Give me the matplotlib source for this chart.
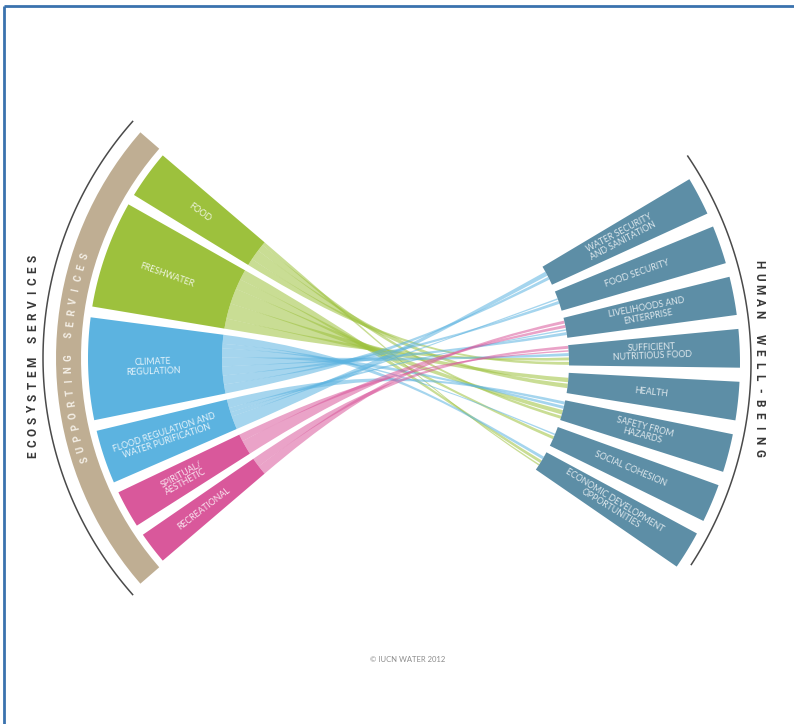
import numpy as np
import matplotlib.pyplot as plt
from matplotlib.patches import Polygon, PathPatch
from matplotlib.path import Path

# ecosystem services (left fan), angular size of each segment in degrees
services = ["FOOD", "FRESHWATER", "CLIMATE\nREGULATION",
            "FLOOD REGULATION AND\nWATER PURIFICATION", "SPIRITUAL/\nAESTHETIC",
            "RECREATIONAL"]
service_size = [9, 20, 19, 10, 7, 6]
service_color = ["#9dc13d", "#9dc13d", "#5cb3e0", "#5cb3e0", "#d9589b", "#d9589b"]

# human well-being (right fan)
wellbeing = ["WATER SECURITY\nAND SANITATION", "FOOD SECURITY",
             "LIVELIHOODS AND\nENTERPRISE", "SUFFICIENT\nNUTRITIOUS FOOD", "HEALTH",
             "SAFETY FROM\nHAZARDS", "SOCIAL COHESION",
             "ECONOMIC DEVELOPMENT\nOPPORTUNITIES"]

# links service -> well-being
link_from = [0, 0, 0, 0, 1, 1, 1, 1, 1, 2, 2, 2, 2, 2, 2, 2, 3, 3, 3, 3, 4, 4, 5, 5]
link_to = [3, 4, 5, 7, 3, 4, 5, 6, 7, 0, 1, 2, 3, 5, 6, 7, 0, 1, 2, 5, 2, 3, 2, 3]
link_w = [2, 3, 2, 1, 2, 3, 3, 2, 2, 2, 2, 2, 2, 2, 1, 2, 3, 1, 1, 2, 2, 1, 2, 2]

# layout (pixels, y down)
CL = (400, 358)      # left fan centre
CR = (381, 363)      # right fan centre
L_IN, L_OUT = 178, 312
R_IN, R_OUT = 188, 359
L_START, L_GAP = 139.5, 2.0
R_TOP, R_STEP, R_WIDTH = 30.8, 8.45, 6.2


def pt(c, r, a):
    a = np.radians(a)
    return np.array([c[0] + r * np.cos(a), c[1] - r * np.sin(a)])


def sector(c, r0, r1, a0, a1, n=40):
    aa = np.linspace(a0, a1, n)
    outer = [pt(c, r1, a) for a in aa]
    inner = [pt(c, r0, a) for a in aa[::-1]]
    return np.array(outer + inner)


fig = plt.figure(figsize=(7.94, 7.24), dpi=100)
ax = fig.add_axes([0, 0, 1, 1])
ax.set_xlim(0, 794)
ax.set_ylim(724, 0)
ax.axis("off")

# frame lines (top and left)
ax.plot([3.5, 794], [5.5, 5.5], color="#3a72ae", lw=2, solid_capstyle="butt")
ax.plot([3.5, 3.5], [5.5, 724], color="#3a72ae", lw=2, solid_capstyle="butt")

# angles of left segments
seg = []
a = L_START
for s in service_size:
    seg.append((a, a + s))
    a += s + L_GAP

# angles of right bars
bars = []
for j in range(len(wellbeing)):
    mid = R_TOP - R_WIDTH / 2 - j * R_STEP
    bars.append((mid - R_WIDTH / 2, mid + R_WIDTH / 2))

# split each source span among its links (top of source -> lowest target)
src_part = {}
for i in range(len(services)):
    ks = [k for k in range(len(link_from)) if link_from[k] == i]
    ks.sort(key=lambda k: -link_to[k])
    tot = sum(link_w[k] for k in ks)
    a0, a1 = seg[i]
    cur = a0
    for k in ks:
        d = (a1 - a0) * link_w[k] / tot
        src_part[k] = (cur, cur + d)
        cur += d

# ends at the right bars
dst_part = {}
scale, gap = 1.5, 1.4
for j in range(len(wellbeing)):
    ks = [k for k in range(len(link_from)) if link_to[k] == j]
    ks.sort(key=lambda k: -link_from[k])
    tot = sum(link_w[k] * scale for k in ks) + gap * (len(ks) - 1)
    mid = (bars[j][0] + bars[j][1]) / 2
    cur = np.degrees(tot / 2 / R_IN) + mid
    for k in ks:
        d = np.degrees(link_w[k] * scale / R_IN)
        dst_part[k] = (cur, cur - d)
        cur -= d + np.degrees(gap / R_IN)

# ribbons
K1, K2 = 145, 120
for k in range(len(link_from)):
    s0, s1 = src_part[k]      # s0 top
    d0, d1 = dst_part[k]      # d0 top
    Lt, Lb = pt(CL, L_IN, s0), pt(CL, L_IN, s1)
    Rt, Rb = pt(CR, R_IN, d0), pt(CR, R_IN, d1)
    c1t = pt(CL, L_IN - K1, s0)
    c1b = pt(CL, L_IN - K1, s1)
    c2t = pt(CR, R_IN - K2, d0)
    c2b = pt(CR, R_IN - K2, d1)
    arc = [pt(CL, L_IN, x) for x in np.linspace(s1, s0, 8)[1:]]
    verts = [Lt, c1t, c2t, Rt, Rb, c2b, c1b, Lb] + arc + [Lt]
    codes = ([Path.MOVETO] + [Path.CURVE4] * 3 + [Path.LINETO] + [Path.CURVE4] * 3
             + [Path.LINETO] * len(arc) + [Path.CLOSEPOLY])
    col = service_color[link_from[k]]
    ax.add_patch(PathPatch(Path(verts, codes), facecolor=col, edgecolor="none",
                           alpha=0.55, zorder=1))

# left segments
for i, (a0, a1) in enumerate(seg):
    ax.add_patch(Polygon(sector(CL, L_IN, L_OUT, a0, a1), closed=True,
                         facecolor=service_color[i], edgecolor="none", zorder=3))
    m = (a0 + a1) / 2
    x, y = pt(CL, (L_IN + L_OUT) / 2 + 2, m)
    ax.text(x, y, services[i], rotation=m - 180, rotation_mode="anchor",
            ha="center", va="center", fontsize=6.3, color="white", alpha=0.85,
            family="Lato", linespacing=1.0, zorder=4)

# right bars
for j, (b0, b1) in enumerate(bars):
    ax.add_patch(Polygon(sector(CR, R_IN, R_OUT, b0, b1), closed=True,
                         facecolor="#5d8ea6", edgecolor="none", zorder=3))
    m = (b0 + b1) / 2
    x, y = pt(CR, (R_IN + R_OUT) / 2 - 2, m)
    ax.text(x, y, wellbeing[j], rotation=m, rotation_mode="anchor",
            ha="center", va="center", fontsize=6.3, color="white", alpha=0.8,
            family="Lato", linespacing=1.0, zorder=4)

# supporting services band
ax.add_patch(Polygon(sector(CL, 319, 344, 139, 221), closed=True,
                     facecolor="#bfae93", edgecolor="none", zorder=3))
word = "SUPPORTING SERVICES"
for n, ch in enumerate(word):
    ang = 197.8 - n * (197.8 - 162.2) / (len(word) - 1)
    x, y = pt(CL, 331.5, ang)
    ax.text(x, y, ch, rotation=ang - 90, ha="center", va="center",
            fontsize=7, color="#f4efe6", family="Roboto", fontweight="bold", zorder=4)

# outer thin arcs
aa = np.linspace(138.5, 221.5, 100)
p = np.array([pt(CL, 357, x) for x in aa])
ax.plot(p[:, 0], p[:, 1], color="#4a4a4a", lw=1.1)
aa = np.linspace(-33, 34, 100)
p = np.array([pt(CR, 370, x) for x in aa])
ax.plot(p[:, 0], p[:, 1], color="#4a4a4a", lw=1.1)

# side titles, letter spaced
title_l = "ECOSYSTEM SERVICES"
for n, ch in enumerate(title_l):
    y = 455 - n * (455 - 258) / (len(title_l) - 1)
    ax.text(33, y, ch, rotation=90, ha="center", va="center", fontsize=8.5,
            fontweight="bold", color="#383838", family="Roboto")
title_r = "HUMAN WELL-BEING"
for n, ch in enumerate(title_r):
    y = 264 + n * (453 - 264) / (len(title_r) - 1)
    ax.text(759, y, ch, rotation=-90, ha="center", va="center", fontsize=8.5,
            fontweight="bold", color="#383838", family="Roboto")

ax.text(408, 659, "© IUCN WATER 2012", ha="center", va="center", fontsize=5.5,
        color="#8c8c8c", family="Lato")

fig.savefig("out.png", dpi=100)
